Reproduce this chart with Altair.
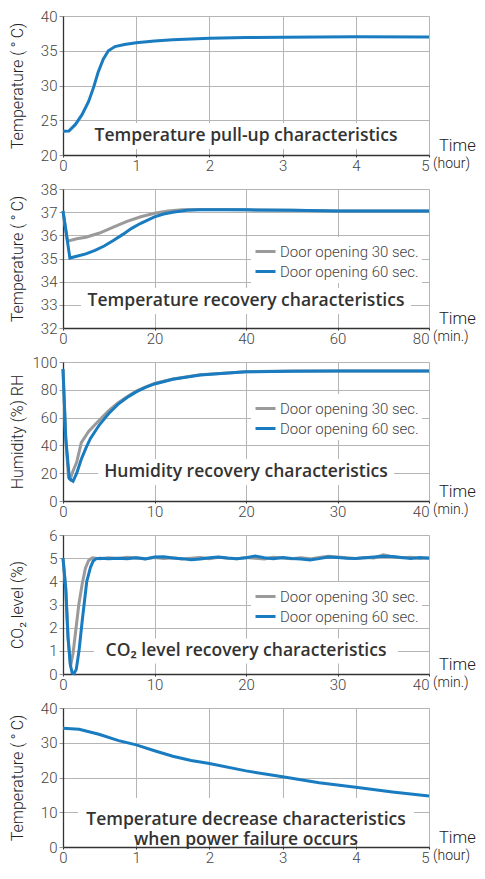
import altair as alt
import pandas as pd

# ---------------- data ----------------
SERIES = ["Door opening 30 sec.", "Door opening 60 sec."]

# Panel 1: temperature pull-up (hours, °C)
pull_t = [0, 0.08, 0.17, 0.26, 0.35, 0.42, 0.48, 0.55, 0.62, 0.71, 0.84, 1.0, 1.25, 1.5, 2.0, 2.5, 3.0, 4.0, 5.0]
pull_v = [23.4, 23.45, 24.4, 25.8, 27.7, 29.8, 31.9, 33.8, 35.0, 35.6, 35.9, 36.15, 36.4, 36.6, 36.8, 36.9, 36.95, 37.0, 36.98]

# Panel 2: temperature recovery (min, °C)
trec30_t = [0, 1, 3, 5, 8, 11, 14, 17, 20, 23, 26, 30, 35, 40, 50, 60, 70, 80]
trec30_v = [37.05, 35.75, 35.85, 35.92, 36.1, 36.35, 36.6, 36.8, 36.95, 37.05, 37.1, 37.12, 37.12, 37.1, 37.08, 37.05, 37.05, 37.05]
trec60_t = [0, 1.5, 3, 5, 7, 9, 11, 13, 15, 17, 20, 22, 24, 27, 30, 40, 50, 60, 70, 80]
trec60_v = [37.05, 35.02, 35.1, 35.2, 35.35, 35.54, 35.78, 36.03, 36.3, 36.52, 36.8, 36.92, 37.0, 37.08, 37.1, 37.1, 37.08, 37.05, 37.05, 37.05]

# Panel 3: humidity recovery (min, %RH)
hum30_t = [0, 0.3, 0.6, 0.8, 1.0, 1.5, 2.0, 2.8, 3.8, 5, 6, 7, 8, 9, 10, 12, 15, 20, 25, 30, 40]
hum30_v = [95, 45, 17, 15.5, 20, 28, 42, 50, 57, 65, 70.5, 75, 79, 82, 84.5, 87.8, 90.8, 93, 93.5, 93.5, 93.5]
hum60_t = [0, 0.3, 0.7, 1.1, 1.5, 2.0, 2.5, 3.0, 4.0, 5.0, 6, 7, 8, 9, 10, 12, 15, 20, 25, 30, 40]
hum60_v = [95, 45, 16, 14.2, 20, 30, 38, 45, 55, 63, 69.5, 74.5, 78.5, 81.7, 84.2, 87.6, 90.6, 92.9, 93.4, 93.5, 93.5]

# Panel 4: CO2 recovery (min, %)
co2_30_t = [0, 0.3, 0.55, 0.83, 1.1, 1.4, 1.73, 2.1, 2.45, 2.8, 3.2,
            4, 5, 6, 7, 8, 9, 10, 11, 12, 13, 14, 15, 16, 17, 18, 19, 20, 21, 22,
            23, 24, 25, 26, 27, 28, 29, 30, 31, 32, 33, 34, 35, 36, 37, 38, 39, 40]
co2_30_v = [5.0, 3.7, 1.6, 0.35, 0.9, 1.9, 3.0, 3.9, 4.57, 4.9, 5.02,
            4.98, 5.02, 4.99, 5.04, 5.01, 4.97, 5.03, 4.99, 5.02, 4.96, 5.00, 5.03, 4.98, 5.04, 5.00, 4.97, 5.03, 5.00, 4.96,
            5.04, 5.01, 4.98, 5.02, 4.97, 5.03, 5.08, 5.05, 5.02, 4.99, 5.03, 5.01, 5.14, 5.06, 5.02, 5.04, 4.99, 5.02]
co2_60_t = [0, 0.3, 0.55, 0.8, 1.0, 1.2, 1.45, 1.75, 2.1, 2.6, 3.0, 3.3, 3.6,
            4, 5, 6, 7, 8, 9, 10, 11, 12, 13, 14, 15, 16, 17, 18, 19, 20, 21, 22,
            23, 24, 25, 26, 27, 28, 29, 30, 31, 32, 33, 34, 35, 36, 37, 38, 39, 40]
co2_60_v = [5.0, 3.7, 1.55, 0.4, 0.05, 0.02, 0.2, 1.0, 2.3, 4.0, 4.6, 4.88, 4.97,
            5.00, 4.97, 5.00, 4.98, 5.02, 4.97, 5.05, 5.06, 5.01, 4.98, 4.93, 4.96, 5.02, 5.05, 5.01, 4.98, 5.02, 5.09, 5.02,
            4.98, 5.03, 4.99, 4.96, 4.92, 4.98, 5.05, 5.03, 5.00, 4.99, 5.02, 5.05, 5.08, 5.07, 5.03, 4.99, 5.03, 5.00]

# Panel 5: temperature decrease at power failure (hours, °C)
fail_t = [0, 0.22, 0.49, 0.76, 1.0, 1.25, 1.5, 1.75, 2.0, 2.5, 3.0, 3.5, 4.0, 4.5, 5.0]
fail_v = [34.15, 33.9, 32.45, 30.6, 29.4, 27.7, 26.1, 24.9, 24.0, 21.9, 20.2, 18.5, 17.2, 15.85, 14.7]

# ---------------- style ----------------
W, H = 366, 139
BLUE = "#1a7cc0"
GRAY = "#9a9a9a"
NARROW = "Roboto, sans-serif"
CAP_FONT = "Open Sans"
ONE = pd.DataFrame({"k": [0]})


def single(t, v):
    return pd.DataFrame({"t": t, "v": v})


def double(t30, v30, t60, v60):
    a = pd.DataFrame({"t": t30, "v": v30, "s": SERIES[0]})
    b = pd.DataFrame({"t": t60, "v": v60, "s": SERIES[1]})
    return pd.concat([a, b], ignore_index=True)


def panel(df, x_dom, x_vals, y_dom, y_vals, y_title, unit, caption, cap_cy, cap_w, cap_h, legend_y=None):
    xmax = x_dom[1]
    x = alt.X("t:Q", scale=alt.Scale(domain=x_dom, nice=False, zero=False),
              axis=alt.Axis(values=x_vals, title=None, grid=True, gridColor="#b5b5b5",
                            domainColor="#333", domainWidth=1.3, tickColor="#333", tickSize=2,
                            labelPadding=1, labelFont=NARROW, labelFontSize=15, labelFontWeight=300,
                            labelColor="#444",
                            labelAlign={"condition": {"test": f"datum.value >= {xmax}", "value": "right"},
                                        "value": "center"}))
    y = alt.Y("v:Q", scale=alt.Scale(domain=y_dom, nice=False, zero=False),
              axis=alt.Axis(values=y_vals, title=y_title, grid=True, gridColor="#b5b5b5",
                            domainColor="#333", domainWidth=1.3, tickColor="#999", tickSize=4,
                            labelPadding=2, labelFont=NARROW, labelFontSize=15, labelFontWeight=300,
                            labelColor="#444",
                            titleFont=NARROW, titleFontSize=16, titleFontWeight=300, titleColor="#222",
                            titleX=-46, titleY=H / 2, titleAngle=270, titleAlign="center",
                            titleBaseline="middle"))
    if legend_y is None:
        line = alt.Chart(df).mark_line(color=BLUE, strokeWidth=3).encode(x=x, y=y)
    else:
        color = alt.Color("s:N", scale=alt.Scale(domain=SERIES, range=[GRAY, BLUE]),
                          legend=alt.Legend(orient="none", legendX=188, legendY=legend_y, title=None,
                                            symbolType="stroke", symbolSize=400, symbolStrokeWidth=3,
                                            labelFont=NARROW, labelFontSize=15, labelFontWeight=300,
                                            labelColor="#444",
                                            labelOffset=3, fillColor="white", padding=3, rowPadding=0))
        line = alt.Chart(df).mark_line(strokeWidth=3).encode(x=x, y=y, color=color)

    box = alt.Chart(ONE).mark_rect(color="white").encode(
        x=alt.value(W / 2 - cap_w / 2), x2=alt.value(W / 2 + cap_w / 2),
        y=alt.value(cap_cy - cap_h / 2), y2=alt.value(cap_cy + cap_h / 2))
    cap = alt.Chart(ONE).mark_text(text=caption, font=CAP_FONT, fontSize=17.5, fontWeight=600,
                                   color="#333", align="center", baseline="middle", lineHeight=20).encode(
        x=alt.value(W / 2), y=alt.value(cap_cy))
    time_lbl = alt.Chart(ONE).mark_text(text="Time", font=NARROW, fontSize=16.5, fontWeight=300,
                                        color="#222", align="left", baseline="middle").encode(
        x=alt.value(W + 10), y=alt.value(H - 9))
    unit_lbl = alt.Chart(ONE).mark_text(text=unit, font=NARROW, fontSize=14, fontWeight=300,
                                        color="#222", align="left", baseline="middle").encode(
        x=alt.value(W + 4), y=alt.value(H + 9))
    return alt.layer(box, cap, line, time_lbl, unit_lbl).properties(width=W, height=H)


T_TITLE = "Temperature (\u2009°\u2009C)"

p1 = panel(single(pull_t, pull_v), [0, 5], [0, 1, 2, 3, 4, 5], [20, 40], [20, 25, 30, 35, 40],
           T_TITLE, "(hour)", "Temperature pull-up characteristics", 120, 322, 26)
p2 = panel(double(trec30_t, trec30_v, trec60_t, trec60_v), [0, 80], [0, 20, 40, 60, 80],
           [32, 38], [32, 33, 34, 35, 36, 37, 38], T_TITLE, "(min.)",
           "Temperature recovery characteristics", 112, 330, 26, legend_y=48)
p3 = panel(double(hum30_t, hum30_v, hum60_t, hum60_v), [0, 40], [0, 10, 20, 30, 40],
           [0, 100], [0, 20, 40, 60, 80, 100], "Humidity (%) RH", "(min.)",
           "Humidity recovery characteristics", 110, 296, 26, legend_y=32)
p4 = panel(double(co2_30_t, co2_30_v, co2_60_t, co2_60_v), [0, 40], [0, 10, 20, 30, 40],
           [0, 6], [0, 1, 2, 3, 4, 5, 6], "CO₂ level (%)", "(min.)",
           "CO₂ level recovery characteristics", 116, 304, 25, legend_y=47)
p5 = panel(single(fail_t, fail_v), [0, 5], [0, 1, 2, 3, 4, 5], [0, 40], [0, 10, 20, 30, 40],
           T_TITLE, "(hour)", ["Temperature decrease characteristics", "when power failure occurs"],
           112, 336, 44)

chart = alt.vconcat(p1, p2, p3, p4, p5, spacing=34, bounds="flush").resolve_scale(
    color="independent"
).resolve_legend(color="independent").properties(
    padding=0
).configure_view(stroke="#999", strokeWidth=1).configure(background="white")

chart.save("out.html", embed_options={"renderer": "svg", "actions": False})
